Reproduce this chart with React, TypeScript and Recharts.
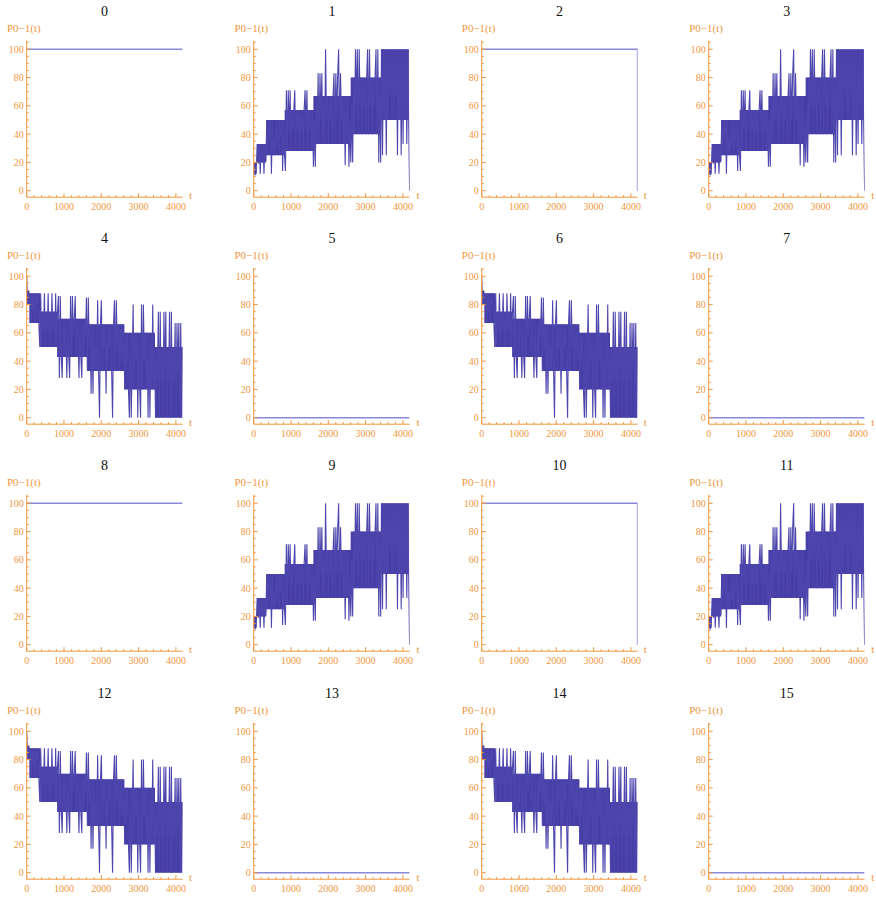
import { ComposedChart, Line, Area, XAxis, YAxis } from 'recharts';

const ORANGE = '#f0973e';
const BAND_BLUE = '#463ea6';
const TRACE_BLUE = '#4d46ad';
const FLAT_BLUE = '#8a88d8';
const T_END = 4180;

// panel kinds, in reading order 0..15
const PANEL_KIND = [
  'one', 'rise', 'oneDrop', 'rise',
  'fall', 'zero', 'fall', 'zero',
  'one', 'rise', 'oneDrop', 'rise',
  'fall', 'zero', 'fall', 'zero',
];

const ONE_T = [0, T_END];
const ONE_V = [100, 100];
const ONE_DROP_T = [0, T_END, T_END];
const ONE_DROP_V = [100, 100, 0];
const ZERO_T = [0, T_END];
const ZERO_V = [0, 0];

// sampled evenly over 0..T_END
const RISE_V = [
  10, 20, 11, 20,
  33, 19, 33, 12, 33, 20, 33, 12, 33, 21,
  50, 25, 50, 37, 50, 12, 50, 25, 37, 25, 50, 31, 50, 25, 50, 37, 50, 14, 50, 25,
  14, 71, 28, 71, 43, 71, 28, 57, 43, 57, 71, 28, 57, 43, 57, 28, 57, 43, 57, 28,
  57, 71, 43, 71, 28, 57, 43, 57, 28, 57,
  17, 50, 17, 67, 33, 83, 33, 83, 50, 83, 33, 67, 33, 100, 50, 67, 33, 67, 50, 67,
  33, 67, 83, 33, 83, 50, 83, 100, 33, 83, 50, 67, 33, 67, 18, 67, 33, 67, 17, 50,
  20, 60, 20, 80, 40, 100, 60, 100, 40, 100, 60, 80, 40, 80, 60, 80, 40, 80, 100, 40,
  100, 60, 80, 40, 80, 60, 80, 100, 40, 100, 20, 80, 20,
  100, 25, 100, 50, 100, 25, 100, 50, 100, 67, 100, 50, 100, 50, 100, 67, 100, 25, 100, 50,
  100, 25, 100, 33, 100, 50, 100, 33, 100, 50, 0,
];

const FALL_V = [
  100, 80, 90, 80,
  88, 67, 88, 75, 88, 67, 88, 80, 88, 67,
  50, 88, 50, 75, 62, 88, 50, 75, 62, 88, 50, 75, 50, 88, 62, 75, 50, 88, 50, 75,
  86, 28, 86, 43, 28, 70, 43, 70, 57, 28, 70, 43, 28, 86, 43, 86, 57, 70, 86, 43,
  70, 57, 28, 70, 43, 28, 70, 43, 70, 57,
  85, 33, 85, 50, 66, 17, 66, 17, 66, 33, 50, 33, 83, 33, 0, 66, 83, 33, 66, 50,
  66, 17, 66, 33, 66, 50, 66, 33, 0, 66, 83, 33, 83, 50, 66, 33, 66, 40, 66, 40,
  60, 20, 60, 40, 60, 20, 0, 60, 0, 40, 80, 20, 60, 40, 60, 0, 60, 20, 0, 80,
  20, 80, 40, 60, 20, 60, 0, 60, 0, 60, 20, 80, 20,
  50, 0, 50, 25, 75, 0, 75, 25, 50, 0, 75, 25, 75, 0, 50, 25, 75, 0, 75, 0,
  50, 25, 67, 0, 67, 33, 67, 0, 67, 0, 50,
];

// the solid core where the trace oscillates too fast to resolve
const RISE_BAND_T = [0, 80, 335, 830, 1600, 2600, 3410, 4160];
const RISE_BAND_LO = [12, 20, 25, 28, 33, 40, 50, 50];
const RISE_BAND_HI = [20, 33, 50, 57, 67, 80, 100, 100];

const FALL_BAND_T = [0, 70, 360, 815, 1630, 2620, 3440, 4170];
const FALL_BAND_LO = [80, 67, 50, 43, 33, 20, 0, 0];
const FALL_BAND_HI = [90, 88, 75, 70, 66, 60, 50, 50];

const Y_TICKS = [0, 5, 10, 15, 20, 25, 30, 35, 40, 45, 50, 55, 60, 65, 70, 75, 80, 85, 90, 95, 100, 105];
const X_TICKS = [0, 200, 400, 600, 800, 1000, 1200, 1400, 1600, 1800, 2000, 2200, 2400, 2600, 2800, 3000, 3200, 3400, 3600, 3800, 4000];

const sampled = (vals: number[]) =>
  vals.map((v, i) => ({ t: (i * T_END) / (vals.length - 1), v }));
const paired = (ts: number[], vs: number[]) => ts.map((t, i) => ({ t, v: vs[i] }));
const banded = (ts: number[], lo: number[], hi: number[]) =>
  ts.map((t, i) => ({ t, band: [lo[i], hi[i]] }));

const DATA: Record<string, { t: number; v: number }[]> = {
  one: paired(ONE_T, ONE_V),
  oneDrop: paired(ONE_DROP_T, ONE_DROP_V),
  zero: paired(ZERO_T, ZERO_V),
  rise: sampled(RISE_V),
  fall: sampled(FALL_V),
};

const BANDS: Record<string, { t: number; band: number[] }[] | undefined> = {
  rise: banded(RISE_BAND_T, RISE_BAND_LO, RISE_BAND_HI),
  fall: banded(FALL_BAND_T, FALL_BAND_LO, FALL_BAND_HI),
};

const SERIF = '"Liberation Serif", "Times New Roman", serif';

const YTick = ({ x, y, payload }: any) => {
  const major = payload.value % 20 === 0;
  return (
    <g>
      <line x1={x} x2={x + (major ? 4 : 2)} y1={y} y2={y} stroke={ORANGE} strokeWidth={1} />
      {major && (
        <text x={x - 3} y={y} dy={3.5} textAnchor="end" fill={ORANGE} fontSize={10} fontFamily={SERIF}>
          {payload.value}
        </text>
      )}
    </g>
  );
};

const XTick = ({ x, y, payload }: any) => {
  const major = payload.value % 1000 === 0;
  return (
    <g>
      <line x1={x} x2={x} y1={y} y2={y - (major ? 4 : 2)} stroke={ORANGE} strokeWidth={1} />
      {major && (
        <text x={x} y={y + 12.5} textAnchor="middle" fill={ORANGE} fontSize={10} fontFamily={SERIF}>
          {payload.value}
        </text>
      )}
    </g>
  );
};

const Panel = ({ idx }: { idx: number }) => {
  const col = idx % 4;
  const row = Math.floor(idx / 4);
  const left = col * 227.4;
  const top = row * 227.2;
  const kind = PANEL_KIND[idx];
  const band = BANDS[kind];
  return (
    <div style={{ position: 'absolute', left, top, width: 227, height: 227 }}>
      <div style={{ position: 'absolute', left: 104.6, top: 5, transform: 'translateX(-50%)', fontFamily: SERIF, fontSize: 14, lineHeight: '14px', color: '#111' }}>
        {idx}
      </div>
      <div style={{ position: 'absolute', left: 7, top: 23, fontFamily: SERIF, fontSize: 11, lineHeight: '11px', color: ORANGE, whiteSpace: 'nowrap' }}>
        P0−1(t)
      </div>
      <div style={{ position: 'absolute', left: 189, top: 190, fontFamily: SERIF, fontSize: 11, lineHeight: '11px', color: ORANGE }}>
        t
      </div>
      <ComposedChart width={227} height={227} data={DATA[kind]} margin={{ top: 40.8, right: 44.4, bottom: 0, left: 0 }}>
        <XAxis
          dataKey="t"
          type="number"
          domain={[0, T_END]}
          allowDataOverflow
          ticks={X_TICKS}
          interval={0}
          height={29.8}
          tickSize={0}
          tickMargin={0}
          tickLine={false}
          axisLine={{ stroke: ORANGE }}
          tick={<XTick />}
        />
        <YAxis
          type="number"
          domain={[-4.6, 106]}
          allowDataOverflow
          ticks={Y_TICKS}
          interval={0}
          width={26.7}
          tickSize={0}
          tickMargin={0}
          tickLine={false}
          axisLine={{ stroke: ORANGE }}
          tick={<YTick />}
        />
        {band && (
          <Area
            data={band}
            dataKey="band"
            type="stepAfter"
            fill={BAND_BLUE}
            fillOpacity={1}
            stroke="none"
            isAnimationActive={false}
          />
        )}
        <Line
          dataKey="v"
          type="linear"
          stroke={band ? TRACE_BLUE : FLAT_BLUE}
          strokeWidth={band ? 1.1 : 1.6}
          dot={false}
          isAnimationActive={false}
        />
      </ComposedChart>
    </div>
  );
};

export default function App() {
  return (
    <div style={{ position: 'absolute', left: 0, top: 0, width: 876, height: 898, background: '#fff' }}>
      {PANEL_KIND.map((_, i) => (
        <Panel key={i} idx={i} />
      ))}
    </div>
  );
}
